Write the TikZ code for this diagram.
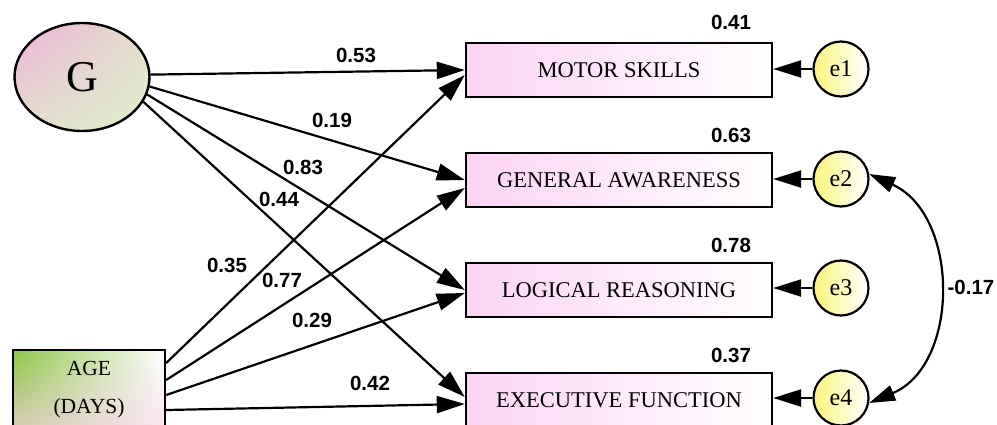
\documentclass[tikz,border=0pt]{standalone}
\usepackage{fontspec}
\setmainfont{Liberation Serif}
\newfontfamily\numfont{Liberation Sans}
\usetikzlibrary{arrows.meta,shapes.geometric,shadings}
\definecolor{pinkL}{RGB}{252,212,245}
\definecolor{yelL}{RGB}{250,245,125}
\definecolor{gPink}{RGB}{236,178,216}
\definecolor{gGreen}{RGB}{222,240,205}
\definecolor{gMid}{RGB}{228,222,205}
\definecolor{ageGreen}{RGB}{140,200,70}
\definecolor{ageTan}{RGB}{215,205,180}
\definecolor{agePink}{RGB}{250,228,242}
\begin{document}
\begin{tikzpicture}[x=1pt,y=-1pt,
  every node/.style={inner sep=0pt},
  varbox/.style={draw, line width=2.4pt, minimum width=306pt, minimum height=54pt,
    left color=pinkL, middle color=pinkL!30, right color=white, font=\fontsize{22.5}{24}\selectfont},
  errc/.style={draw, circle, line width=2.2pt, minimum size=55pt,
    left color=yelL, right color=white, font=\fontsize{24}{24}\selectfont},
  arr/.style={line width=2.2pt, -{Triangle[length=28pt,width=17pt]}},
  darr/.style={line width=2.2pt, {Triangle[length=26pt,width=16pt]}-{Triangle[length=26pt,width=16pt]}},
  coef/.style={font=\numfont\bfseries\fontsize{20.5}{22}\selectfont},
]
\clip (0,0) rectangle (997,424);
\fill[white] (0,0) rectangle (997,424);

% latent variable
\node[ellipse, draw, line width=2.4pt, minimum width=135pt, minimum height=108pt,
  upper left=gPink, lower right=gGreen, upper right=gMid, lower left=gMid] (G) at (82,77)
  {\fontsize{44}{44}\selectfont G};

% age box
\node[draw, line width=2.4pt, minimum width=152pt, minimum height=80pt, align=center,
  upper left=ageGreen, lower left=ageTan, upper right=white, lower right=agePink,
  font=\fontsize{21.5}{38}\selectfont] (age) at (89,390) {AGE\\(DAYS)};

% observed variables
\node[varbox] (ms) at (619,70) {MOTOR SKILLS};
\node[varbox] (ga) at (619,180) {GENERAL AWARENESS};
\node[varbox] (lr) at (619,290) {LOGICAL REASONING};
\node[varbox] (ef) at (619,400) {EXECUTIVE FUNCTION};

% errors
\node[errc] (e1) at (841,69) {e1};
\node[errc] (e2) at (841,179) {e2};
\node[errc] (e3) at (841,288) {e3};
\node[errc] (e4) at (841,398) {e4};

% paths from G
\draw[arr] (G.2) -- (ms.west);
\draw[arr] (G.-8) -- (ga.west);
\draw[arr] (G.-15) -- (lr.west);
\draw[arr] (G.-22) -- ([yshift=3pt]ef.west);

% paths from age
\draw[arr] ([yshift=27pt]age.east) -- ([yshift=-5pt]ms.west);
\draw[arr] ([yshift=10pt]age.east) -- ([yshift=-8pt]ga.west);
\draw[arr] ([yshift=-5pt]age.east) -- ([yshift=-3pt]lr.west);
\draw[arr] ([yshift=-20pt]age.east) -- ([yshift=-4pt]ef.west);

% error paths
\draw[arr] (e1.west) -- (ms.east |- e1.west);
\draw[arr] (e2.west) -- (ga.east |- e2.west);
\draw[arr] (e3.west) -- (lr.east |- e3.west);
\draw[arr] (e4.west) -- (ef.east |- e4.west);

% covariance
\draw[darr] (e2.10) .. controls (960,215) and (960,365) .. (e4.-10);

% coefficients
\node[coef] (c53) at (356,55) {0.53};
\node[coef] (c19) at (332,120) {0.19};
\node[coef] (c83) at (303,167) {0.83};
\node[coef] (c44) at (279,199) {0.44};
\node[coef] (c35) at (227,265) {0.35};
\node[coef] (c77) at (282,280) {0.77};
\node[coef] (c29) at (312,320) {0.29};
\node[coef] (c42) at (370,383) {0.42};
\node[coef] (r41) at (731,22) {0.41};
\node[coef] (r63) at (731,135) {0.63};
\node[coef] (r78) at (731,245) {0.78};
\node[coef] (r37) at (731,355) {0.37};
\node[coef] (cov) at (971,287) {-0.17};
\end{tikzpicture}
\end{document}
